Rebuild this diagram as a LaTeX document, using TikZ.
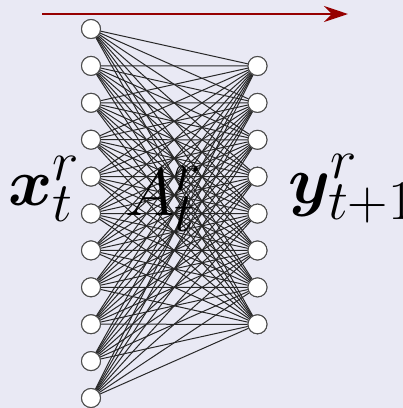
\documentclass[tikz,border=0pt]{standalone}
\usepackage{bm}
\usetikzlibrary{arrows.meta}
\definecolor{bgcol}{RGB}{233,233,244}
\definecolor{arrowred}{RGB}{150,0,0}
\definecolor{edgecol}{RGB}{40,40,40}
\tikzset{
  neuron/.style={circle,draw=black!70,fill=white,line width=1pt,minimum size=19pt,inner sep=0pt},
  conn/.style={draw=edgecol,line width=1pt},
  biglabel/.style={inner sep=0pt,anchor=base west,font=\Huge,scale=2.7,transform shape}
}
\begin{document}
\begin{tikzpicture}[x=1pt,y=-1pt]
\fill[bgcol] (0,0) rectangle (403,408);
\useasboundingbox (0,0) rectangle (403,408);
\coordinate (as) at (42,14);
\coordinate (ae) at (348,14);
\draw[arrowred,line width=2.6pt,-{Stealth[length=24pt,width=16pt,inset=8pt]}] (as) -- (ae);
\foreach \i in {1,...,11} {
  \node[neuron] (L\i) at (91,{29+36.9*(\i-1)}) {};
}
\foreach \j in {1,...,8} {
  \node[neuron] (R\j) at (257.5,{66+36.9*(\j-1)}) {};
}
\foreach \i in {1,...,11} {
  \foreach \j in {1,...,8} {
    \draw[conn] (L\i) -- (R\j);
  }
}
\foreach \i in {1,...,11} {
  \node[neuron] at (L\i) {};
}
\foreach \j in {1,...,8} {
  \node[neuron] at (R\j) {};
}
\node[biglabel] (xl) at (8,205) {$\bm{x}_t^r$};
\node[biglabel] (al) at (125,215) {$A_t^r$};
\node[biglabel] (yl) at (288,203) {$\bm{y}_{t+1}^r$};
\end{tikzpicture}
\end{document}
